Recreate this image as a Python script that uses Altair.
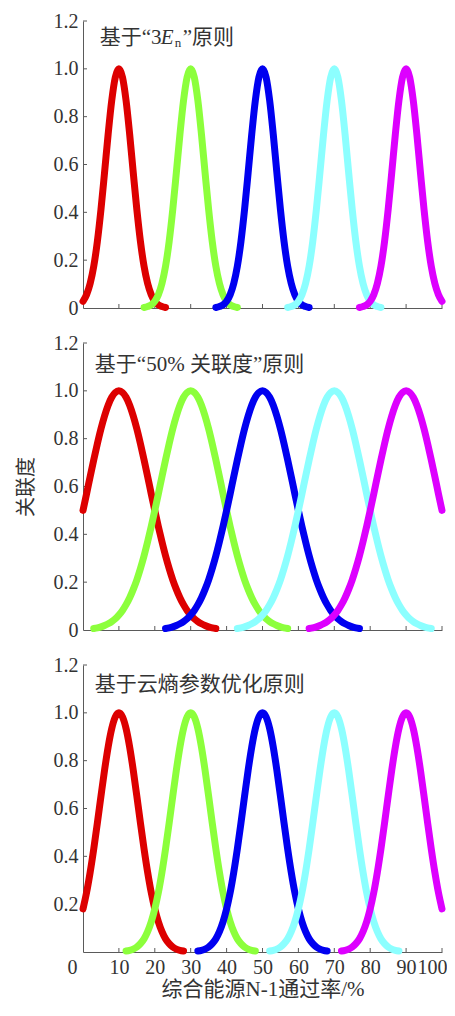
import altair as alt
import pandas as pd

# ---------------- data ----------------
centers = [10, 30, 50, 70, 90]
curve_ids = ["Ex=10", "Ex=30", "Ex=50", "Ex=70", "Ex=90"]
curve_colors = ["#dd0000", "#8cff3c", "#0000f0", "#8cffff", "#dd00ff"]

# membership degree read at distance 0, 1, 2, ... from each cloud centre
# (the five clouds in one panel share the same shape)
prof_3en = [1.000, 0.965, 0.867, 0.726, 0.566, 0.411, 0.278, 0.175, 0.103,
            0.056, 0.028, 0.013, 0.006, 0.002]
prof_50 = [1.000, 0.993, 0.973, 0.940, 0.895, 0.841, 0.779, 0.712, 0.642,
           0.570, 0.500, 0.432, 0.369, 0.310, 0.257, 0.210, 0.170, 0.135,
           0.106, 0.082, 0.063, 0.047, 0.035, 0.026, 0.019, 0.013, 0.009,
           0.006]
prof_entropy = [1.000, 0.983, 0.934, 0.857, 0.760, 0.651, 0.539, 0.432,
                0.334, 0.249, 0.180, 0.126, 0.085, 0.055, 0.035, 0.021,
                0.012, 0.007, 0.004]

x_label_values = [0, 10, 20, 30, 40, 50, 60, 70, 80, 90, 100]
x_tick_values = [10, 20, 30, 40, 50, 60, 70, 80, 90, 100]
y_label_values = [0, 0.2, 0.4, 0.6, 0.8, 1.0, 1.2]
y_label_values_last = [0.2, 0.4, 0.6, 0.8, 1.0, 1.2]
y_tick_values = [0.2, 0.4, 0.6, 0.8, 1.0, 1.2]

title1_parts = ["基于“3", "E", "n", "”原则"]
title2 = "基于“50% 关联度”原则"
title3 = "基于云熵参数优化原则"
y_title = "关联度"
x_title = "综合能源N-1通过率/%"

# ---------------- styling ----------------
FONT = "Liberation Serif, Noto Sans CJK SC"
TXT = "#333333"
AX = "#5a5a5a"
W, H = 359, 287

xs = alt.Scale(domain=[0, 100], nice=False, zero=False)
ys = alt.Scale(domain=[0, 1.2], nice=False)


def curves_df(profile):
    rows = []
    n = len(profile) - 1
    for cid, c in zip(curve_ids, centers):
        for off in range(-n, n + 1):
            x = c + off
            if 0 <= x <= 100:
                rows.append({"curve": cid, "x": x, "y": profile[abs(off)]})
    return pd.DataFrame(rows)


def make_axes(last, with_ytitle):
    if last:
        xaxis = alt.Axis(
            values=x_label_values, ticks=False, tickSize=0, grid=False,
            domainColor=AX, labels=True, labelFontSize=20, labelPadding=5,
            labelFlush=False,
            labelAlign={"condition": {"test": "datum.value === 100", "value": "right"}, "value": "center"},
            labelOffset={"condition": [
                {"test": "datum.value === 0", "value": -11},
                {"test": "datum.value === 100", "value": 5}], "value": 0},
            title=x_title, titleFontSize=21, titlePadding=1)
        yvals = y_label_values_last
    else:
        xaxis = alt.Axis(values=x_label_values, ticks=False, tickSize=0,
                         grid=False, domainColor=AX, labels=False, title=None)
        yvals = y_label_values
    ykw = dict(values=yvals, ticks=False, tickSize=0, grid=False,
               domainColor=AX, labelFontSize=20, labelPadding=5,
               labelExpr="datum.value === 0 ? '0' : format(datum.value, '.1f')")
    if with_ytitle:
        ykw.update(title=y_title, titleFontSize=20, titlePadding=17)
    else:
        ykw.update(title=None)
    yaxis = alt.Axis(**ykw)
    return xaxis, yaxis


def panel(profile, title_df_list, last=False, with_ytitle=False):
    xaxis, yaxis = make_axes(last, with_ytitle)
    X = alt.X("x:Q", scale=xs, axis=xaxis)
    Y = alt.Y("y:Q", scale=ys, axis=yaxis)

    yt = alt.Chart(pd.DataFrame({"y": y_tick_values})).mark_rule(
        color=AX, strokeWidth=1).encode(y=Y, x=alt.value(0), x2=alt.value(4))
    xt = alt.Chart(pd.DataFrame({"x": x_tick_values})).mark_rule(
        color=AX, strokeWidth=1).encode(x=X, y=alt.value(H), y2=alt.value(H - 4))

    lines = alt.Chart(curves_df(profile)).mark_line(
        strokeWidth=7, strokeCap="round", strokeJoin="round",
        interpolate="monotone").encode(
        x=X, y=Y,
        color=alt.Color("curve:N", scale=alt.Scale(domain=curve_ids, range=curve_colors), legend=None),
    )
    layers = [yt, xt, lines]
    for df, kw in title_df_list:
        layers.append(alt.Chart(df).mark_text(
            align="left", baseline="middle", font=FONT, color=TXT, **kw
        ).encode(x=X, y=Y, text="t:N"))
    return alt.layer(*layers).properties(width=W, height=H)


t1x, t1y = 4.65, 1.128
t1 = [
    (pd.DataFrame({"x": [t1x], "y": [t1y], "t": [title1_parts[0]]}), dict(fontSize=21)),
    (pd.DataFrame({"x": [t1x], "y": [t1y], "t": [title1_parts[1]]}), dict(fontSize=21, fontStyle="italic", dx=61)),
    (pd.DataFrame({"x": [t1x], "y": [t1y], "t": [title1_parts[2]]}), dict(fontSize=13, dx=75, dy=5)),
    (pd.DataFrame({"x": [t1x], "y": [t1y], "t": [title1_parts[3]]}), dict(fontSize=21, dx=83)),
]
t2 = [(pd.DataFrame({"x": [3.3], "y": [1.11], "t": [title2]}), dict(fontSize=21))]
t3 = [(pd.DataFrame({"x": [3.3], "y": [1.117], "t": [title3]}), dict(fontSize=21))]

p1 = panel(prof_3en, t1)
p2 = panel(prof_50, t2, with_ytitle=True)
p3 = panel(prof_entropy, t3, last=True)

chart = alt.vconcat(p1, p2, p3, spacing=15).properties(
    padding={"left": 8, "top": 3, "right": 0, "bottom": 0}
).configure_view(stroke=None).configure_axis(
    labelFont=FONT, titleFont=FONT, labelColor=TXT, titleColor=TXT,
    titleFontWeight="normal", domainColor=AX
)

chart.save("out.html", embed_options={"renderer": "svg", "actions": False})
